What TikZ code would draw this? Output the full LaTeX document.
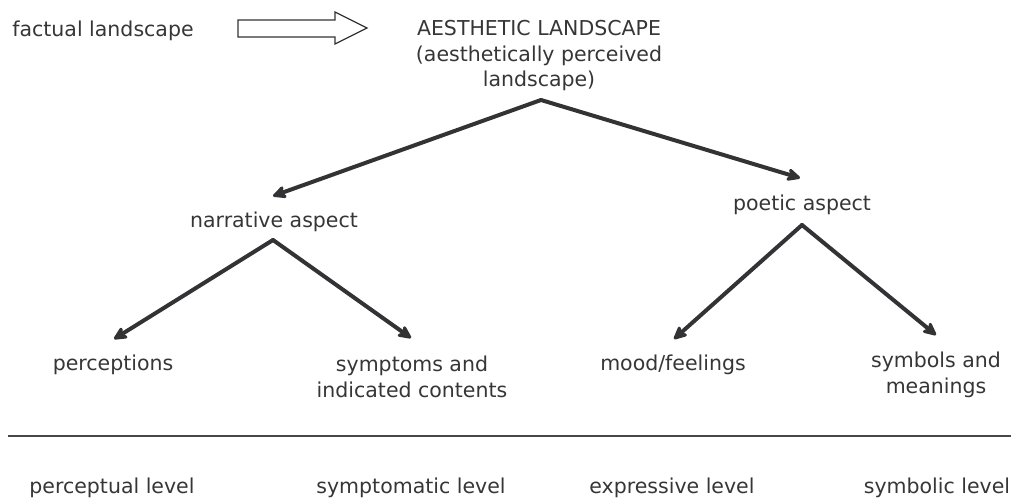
\documentclass[tikz,border=0pt]{standalone}
\usepackage{fontspec}
\setmainfont{DejaVu Sans}
\usetikzlibrary{arrows.meta}
\definecolor{txt}{HTML}{363636}
\definecolor{arr}{HTML}{333336}
\begin{document}
\begin{tikzpicture}[x=1pt,y=-1pt,
  lbl/.style={text=txt,inner sep=0pt,align=center,font=\fontsize{20.5}{25.5}\selectfont},
  tree/.style={draw=arr,line width=4pt,line cap=round,-{Stealth[length=17pt,width=16pt,inset=5pt,round]}},
  hollow/.style={draw=arr,line width=1.3pt,fill=white}]
\useasboundingbox (0,0) rectangle (1019,500);
% top row
\node[lbl] (fact) at (103,31) {factual landscape};
\node[lbl] (aest) at (539,56) {AESTHETIC LANDSCAPE\\(aesthetically perceived\\landscape)};
\draw[hollow] (238,20) -- (335,20) -- (335,12) -- (367,28) -- (335,44) -- (335,37) -- (238,37) -- cycle;
% aspects
\node[lbl] (narr) at (274,222) {narrative aspect};
\node[lbl] (poet) at (802,205) {poetic aspect};
\coordinate (a0) at (541,100);
\coordinate (tnarr) at (273,196);
\coordinate (tpoet) at (800,178);
\draw[tree] (a0) -- (tnarr);
\draw[tree] (a0) -- (tpoet);
% leaves
\node[lbl] (perc) at (113,365) {perceptions};
\node[lbl] (symp) at (412,377) {symptoms and\\indicated contents};
\node[lbl] (mood) at (673,365) {mood/feelings};
\node[lbl] (symb) at (936,375) {symbols and\\meanings};
\coordinate (a1) at (273,240);
\coordinate (a2) at (802,225);
\coordinate (tperc) at (114,339);
\coordinate (tsymp) at (411,338);
\coordinate (tmood) at (674,339);
\coordinate (tsymb) at (936,335);
\draw[tree] (a1) -- (tperc);
\draw[tree] (a1) -- (tsymp);
\draw[tree] (a2) -- (tmood);
\draw[tree] (a2) -- (tsymb);
% separator
\coordinate (sl) at (8,436);
\coordinate (sr) at (1011,436);
\draw[draw=arr!90,line width=2pt] (sl) -- (sr);
% levels
\node[lbl] (l1) at (112,488) {perceptual level};
\node[lbl] (l2) at (411,488) {symptomatic level};
\node[lbl] (l3) at (672,488) {expressive level};
\node[lbl] (l4) at (937,488) {symbolic level};
\end{tikzpicture}
\end{document}
